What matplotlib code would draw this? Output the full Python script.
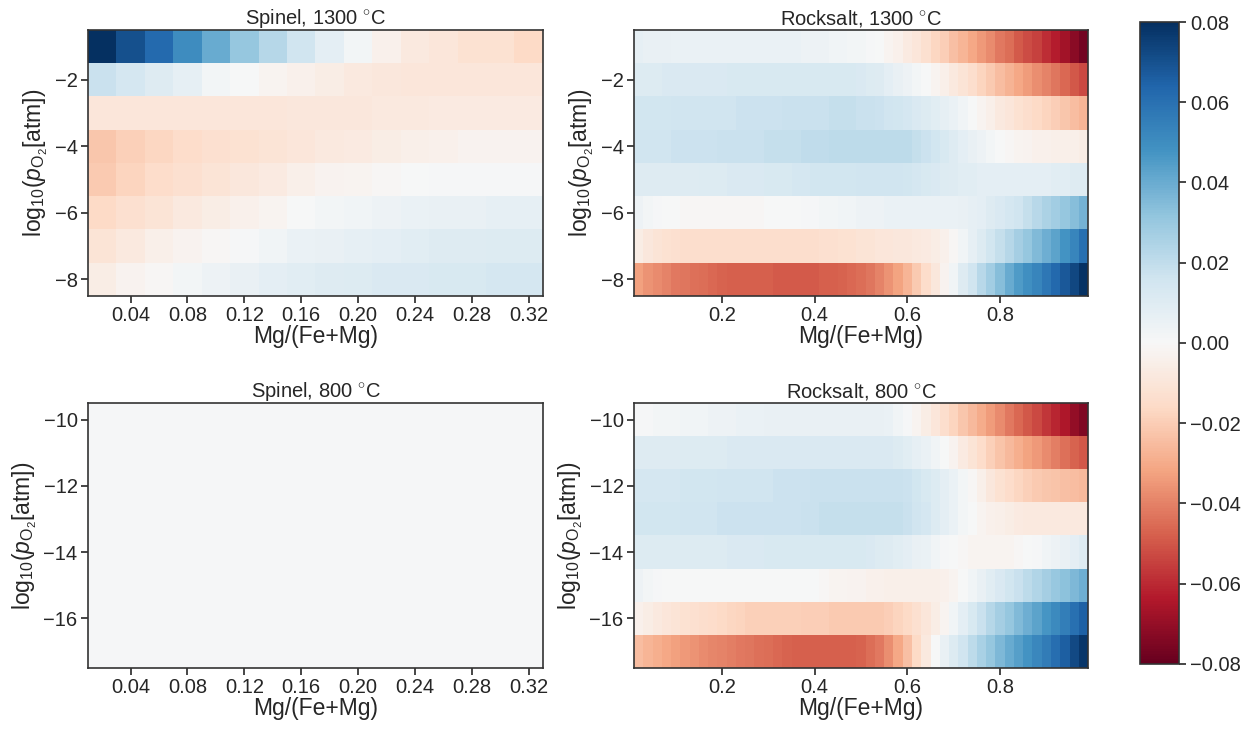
import numpy as np
import matplotlib
matplotlib.use("Agg")
import matplotlib.pyplot as plt
from matplotlib.ticker import FuncFormatter

plt.rcParams["font.family"] = ["Liberation Sans", "DejaVu Sans"]
plt.rcParams["mathtext.fontset"] = "custom"
plt.rcParams["mathtext.rm"] = "Liberation Sans"
plt.rcParams["mathtext.it"] = "Liberation Sans:italic"
plt.rcParams["mathtext.bf"] = "Liberation Sans:bold"
plt.rcParams["axes.unicode_minus"] = True

# composition grids (cell centres)
x_spinel = [0.02, 0.04, 0.06, 0.08, 0.10, 0.12, 0.14, 0.16,
            0.18, 0.20, 0.22, 0.24, 0.26, 0.28, 0.30, 0.32]
x_rocksalt = [round(0.02 * i, 2) for i in range(1, 50)]

# log10 pO2 grids (top row first)
y_1300 = [-1, -2, -3, -4, -5, -6, -7, -8]
y_800 = [-10, -11, -12, -13, -14, -15, -16, -17]

spinel_1300 = [
    [0.080, 0.070, 0.062, 0.050, 0.040, 0.031, 0.023, 0.016, 0.008, 0.002, -0.004, -0.008, -0.010, -0.012, -0.012, -0.016],
    [0.018, 0.014, 0.010, 0.007, 0.002, 0.000, -0.002, -0.004, -0.006, -0.008, -0.009, -0.010, -0.010, -0.010, -0.010, -0.010],
    [-0.010, -0.010, -0.010, -0.010, -0.010, -0.010, -0.010, -0.009, -0.009, -0.009, -0.008, -0.008, -0.007, -0.007, -0.007, -0.007],
    [-0.022, -0.019, -0.017, -0.015, -0.013, -0.012, -0.011, -0.010, -0.008, -0.007, -0.006, -0.005, -0.004, -0.003, -0.003, -0.003],
    [-0.021, -0.018, -0.015, -0.013, -0.011, -0.009, -0.007, -0.005, -0.003, -0.002, -0.001, 0.000, 0.001, 0.001, 0.001, 0.001],
    [-0.016, -0.013, -0.011, -0.008, -0.006, -0.004, -0.002, 0.000, 0.002, 0.003, 0.004, 0.005, 0.006, 0.006, 0.007, 0.007],
    [-0.011, -0.008, -0.005, -0.003, -0.001, 0.001, 0.003, 0.005, 0.006, 0.007, 0.008, 0.009, 0.010, 0.010, 0.011, 0.011],
    [-0.006, -0.003, -0.001, 0.002, 0.004, 0.006, 0.008, 0.009, 0.010, 0.011, 0.012, 0.012, 0.013, 0.013, 0.014, 0.014],
]

spinel_800 = [
    [0.001, 0.001, 0.001, 0.001, 0.001, 0.001, 0.001, 0.001, 0.001, 0.001, 0.001, 0.001, 0.001, 0.001, 0.001, 0.001],
    [0.001, 0.001, 0.001, 0.001, 0.001, 0.001, 0.001, 0.001, 0.001, 0.001, 0.001, 0.001, 0.001, 0.001, 0.001, 0.001],
    [0.001, 0.001, 0.001, 0.001, 0.001, 0.001, 0.001, 0.001, 0.001, 0.001, 0.001, 0.001, 0.001, 0.001, 0.001, 0.001],
    [0.001, 0.001, 0.001, 0.001, 0.001, 0.001, 0.001, 0.001, 0.001, 0.001, 0.001, 0.001, 0.001, 0.001, 0.001, 0.001],
    [0.001, 0.001, 0.001, 0.001, 0.001, 0.001, 0.001, 0.001, 0.001, 0.001, 0.001, 0.001, 0.001, 0.001, 0.001, 0.001],
    [0.001, 0.001, 0.001, 0.001, 0.001, 0.001, 0.001, 0.001, 0.001, 0.001, 0.001, 0.001, 0.001, 0.001, 0.001, 0.001],
    [0.001, 0.001, 0.001, 0.001, 0.001, 0.001, 0.001, 0.001, 0.001, 0.001, 0.001, 0.001, 0.001, 0.001, 0.001, 0.001],
    [0.001, 0.001, 0.001, 0.001, 0.001, 0.001, 0.001, 0.001, 0.001, 0.001, 0.001, 0.001, 0.001, 0.001, 0.001, 0.001],
]

rocksalt_1300 = [
    [0.007, 0.006, 0.006, 0.006, 0.005, 0.005, 0.005, 0.005, 0.005, 0.005,
     0.005, 0.005, 0.005, 0.005, 0.005, 0.005, 0.005, 0.005, 0.004, 0.004,
     0.004, 0.003, 0.003, 0.002, 0.002, 0.001, 0.000, -0.002, -0.004, -0.007,
     -0.010, -0.013, -0.017, -0.020, -0.024, -0.027, -0.031, -0.035, -0.038, -0.042,
     -0.045, -0.049, -0.052, -0.055, -0.059, -0.063, -0.067, -0.072, -0.077],
    [0.011, 0.011, 0.011, 0.012, 0.012, 0.012, 0.012, 0.012, 0.012, 0.012,
     0.013, 0.013, 0.013, 0.013, 0.013, 0.013, 0.013, 0.013, 0.013, 0.013,
     0.013, 0.013, 0.013, 0.013, 0.012, 0.011, 0.010, 0.008, 0.006, 0.004,
     0.002, 0.000, -0.002, -0.005, -0.008, -0.011, -0.014, -0.018, -0.021, -0.025,
     -0.028, -0.031, -0.034, -0.037, -0.040, -0.043, -0.046, -0.050, -0.053],
    [0.015, 0.015, 0.015, 0.015, 0.016, 0.016, 0.016, 0.016, 0.016, 0.016,
     0.016, 0.017, 0.017, 0.017, 0.017, 0.017, 0.018, 0.018, 0.018, 0.018,
     0.018, 0.019, 0.019, 0.019, 0.018, 0.018, 0.017, 0.016, 0.015, 0.014,
     0.012, 0.011, 0.009, 0.007, 0.005, 0.003, 0.000, -0.002, -0.005, -0.008,
     -0.010, -0.012, -0.014, -0.016, -0.018, -0.020, -0.022, -0.025, -0.027],
    [0.016, 0.016, 0.016, 0.016, 0.017, 0.017, 0.017, 0.017, 0.017, 0.018,
     0.018, 0.018, 0.018, 0.018, 0.019, 0.019, 0.019, 0.019, 0.020, 0.020,
     0.020, 0.021, 0.021, 0.021, 0.021, 0.021, 0.021, 0.021, 0.021, 0.021,
     0.019, 0.017, 0.015, 0.013, 0.010, 0.008, 0.006, 0.004, 0.002, 0.000,
     -0.001, -0.002, -0.003, -0.004, -0.004, -0.005, -0.005, -0.005, -0.006],
    [0.010, 0.010, 0.010, 0.010, 0.010, 0.010, 0.010, 0.011, 0.011, 0.011,
     0.012, 0.012, 0.012, 0.012, 0.013, 0.013, 0.013, 0.014, 0.014, 0.015,
     0.015, 0.015, 0.015, 0.015, 0.016, 0.016, 0.016, 0.016, 0.016, 0.015,
     0.014, 0.013, 0.012, 0.011, 0.010, 0.009, 0.009, 0.008, 0.008, 0.008,
     0.008, 0.008, 0.008, 0.008, 0.008, 0.009, 0.009, 0.010, 0.010],
    [0.004, 0.002, 0.001, 0.000, 0.000, -0.001, -0.001, -0.001, -0.001, -0.001,
     -0.001, -0.001, -0.001, -0.001, 0.000, 0.000, 0.000, 0.000, 0.001, 0.001,
     0.002, 0.002, 0.003, 0.003, 0.004, 0.004, 0.004, 0.005, 0.005, 0.005,
     0.005, 0.005, 0.005, 0.005, 0.005, 0.006, 0.007, 0.008, 0.010, 0.012,
     0.014, 0.016, 0.019, 0.022, 0.025, 0.028, 0.031, 0.034, 0.038],
    [-0.006, -0.009, -0.011, -0.012, -0.013, -0.014, -0.014, -0.014, -0.014, -0.014,
     -0.014, -0.014, -0.014, -0.014, -0.014, -0.014, -0.014, -0.014, -0.014, -0.014,
     -0.013, -0.013, -0.012, -0.012, -0.011, -0.011, -0.010, -0.010, -0.009, -0.009,
     -0.008, -0.007, -0.006, -0.004, -0.001, 0.003, 0.007, 0.011, 0.015, 0.019,
     0.023, 0.027, 0.031, 0.035, 0.039, 0.043, 0.048, 0.053, 0.060],
    [-0.033, -0.036, -0.038, -0.040, -0.042, -0.043, -0.044, -0.045, -0.046, -0.047,
     -0.048, -0.048, -0.048, -0.048, -0.048, -0.049, -0.049, -0.049, -0.049, -0.049,
     -0.048, -0.048, -0.047, -0.046, -0.045, -0.043, -0.040, -0.036, -0.032, -0.027,
     -0.021, -0.015, -0.009, -0.003, 0.003, 0.010, 0.016, 0.022, 0.028, 0.034,
     0.040, 0.045, 0.049, 0.053, 0.058, 0.063, 0.068, 0.073, 0.079],
]

rocksalt_800 = [
    [0.001, 0.001, 0.002, 0.002, 0.002, 0.003, 0.003, 0.003, 0.004, 0.004,
     0.004, 0.005, 0.005, 0.005, 0.006, 0.006, 0.006, 0.006, 0.006, 0.006,
     0.006, 0.006, 0.006, 0.006, 0.006, 0.006, 0.006, 0.005, 0.003, 0.001,
     -0.002, -0.006, -0.010, -0.014, -0.018, -0.022, -0.026, -0.030, -0.034, -0.038,
     -0.042, -0.046, -0.050, -0.053, -0.057, -0.061, -0.065, -0.070, -0.075],
    [0.010, 0.010, 0.010, 0.010, 0.010, 0.011, 0.011, 0.011, 0.011, 0.011,
     0.012, 0.012, 0.012, 0.012, 0.012, 0.012, 0.012, 0.012, 0.012, 0.012,
     0.012, 0.012, 0.012, 0.012, 0.012, 0.012, 0.012, 0.012, 0.011, 0.009,
     0.007, 0.005, 0.003, 0.000, -0.003, -0.007, -0.011, -0.015, -0.019, -0.023,
     -0.026, -0.029, -0.032, -0.035, -0.038, -0.041, -0.044, -0.047, -0.050],
    [0.014, 0.014, 0.014, 0.014, 0.014, 0.015, 0.015, 0.015, 0.015, 0.016,
     0.016, 0.016, 0.016, 0.016, 0.016, 0.017, 0.017, 0.017, 0.017, 0.018,
     0.018, 0.018, 0.018, 0.018, 0.018, 0.018, 0.018, 0.018, 0.018, 0.017,
     0.015, 0.013, 0.011, 0.008, 0.005, 0.002, -0.001, -0.005, -0.009, -0.012,
     -0.015, -0.017, -0.019, -0.021, -0.022, -0.023, -0.024, -0.025, -0.026],
    [0.015, 0.015, 0.015, 0.015, 0.015, 0.016, 0.016, 0.016, 0.016, 0.017,
     0.017, 0.017, 0.017, 0.017, 0.017, 0.017, 0.017, 0.017, 0.018, 0.018,
     0.019, 0.019, 0.019, 0.019, 0.019, 0.019, 0.019, 0.019, 0.019, 0.018,
     0.016, 0.014, 0.011, 0.008, 0.005, 0.002, 0.000, -0.002, -0.004, -0.005,
     -0.006, -0.007, -0.008, -0.008, -0.008, -0.008, -0.008, -0.008, -0.008],
    [0.011, 0.011, 0.011, 0.011, 0.011, 0.011, 0.011, 0.011, 0.011, 0.011,
     0.012, 0.012, 0.012, 0.012, 0.013, 0.013, 0.013, 0.013, 0.013, 0.013,
     0.013, 0.013, 0.013, 0.013, 0.013, 0.012, 0.011, 0.010, 0.009, 0.008,
     0.006, 0.005, 0.003, 0.001, 0.000, -0.001, -0.002, -0.002, -0.002, -0.002,
     -0.002, -0.001, 0.000, 0.001, 0.003, 0.004, 0.006, 0.008, 0.010],
    [0.004, 0.002, 0.001, 0.000, 0.000, 0.000, 0.000, 0.000, 0.000, 0.000,
     0.000, 0.000, 0.000, 0.000, 0.000, 0.000, 0.000, 0.000, 0.000, 0.000,
     -0.001, -0.002, -0.002, -0.003, -0.003, -0.004, -0.004, -0.005, -0.005, -0.005,
     -0.005, -0.005, -0.005, -0.004, -0.002, 0.000, 0.003, 0.006, 0.009, 0.012,
     0.015, 0.018, 0.021, 0.024, 0.027, 0.030, 0.033, 0.036, 0.039],
    [-0.004, -0.006, -0.008, -0.010, -0.011, -0.012, -0.013, -0.014, -0.015, -0.016,
     -0.017, -0.018, -0.019, -0.019, -0.019, -0.019, -0.019, -0.019, -0.020, -0.020,
     -0.020, -0.021, -0.021, -0.021, -0.021, -0.021, -0.021, -0.020, -0.018, -0.016,
     -0.013, -0.010, -0.006, -0.002, 0.003, 0.008, 0.013, 0.018, 0.023, 0.027,
     0.031, 0.035, 0.039, 0.043, 0.047, 0.051, 0.055, 0.060, 0.065],
    [-0.025, -0.027, -0.029, -0.031, -0.033, -0.035, -0.036, -0.038, -0.039, -0.040,
     -0.041, -0.042, -0.043, -0.044, -0.045, -0.046, -0.047, -0.048, -0.048, -0.048,
     -0.048, -0.048, -0.048, -0.048, -0.047, -0.045, -0.042, -0.037, -0.031, -0.024,
     -0.016, -0.008, 0.000, 0.006, 0.011, 0.016, 0.021, 0.026, 0.031, 0.036,
     0.040, 0.044, 0.048, 0.052, 0.056, 0.061, 0.066, 0.072, 0.078],
]

spinel_ticks = [0.04, 0.08, 0.12, 0.16, 0.20, 0.24, 0.28, 0.32]
rocksalt_ticks = [0.2, 0.4, 0.6, 0.8]
cbar_ticks = [-0.08, -0.06, -0.04, -0.02, 0.0, 0.02, 0.04, 0.06, 0.08]

vmin, vmax = -0.08, 0.08
fs = 14.5
lfs = 16.5
edge = "#333333"
txt = "#262626"
ylab = r"log$_{10}$($p_{\mathrm{O_2}}$[atm])"

fig = plt.figure(figsize=(12.55, 7.31), dpi=100)

panels = [
    ("Spinel, 1300 $^{\\circ}$C", x_spinel, y_1300, spinel_1300, spinel_ticks, "%.2f",
     [0.0701, 0.5951, 0.3625, 0.3639], [-2, -4, -6, -8]),
    ("Rocksalt, 1300 $^{\\circ}$C", x_rocksalt, y_1300, rocksalt_1300, rocksalt_ticks, "%.1f",
     [0.5052, 0.5951, 0.3618, 0.3639], [-2, -4, -6, -8]),
    ("Spinel, 800 $^{\\circ}$C", x_spinel, y_800, spinel_800, spinel_ticks, "%.2f",
     [0.0701, 0.0862, 0.3625, 0.3625], [-10, -12, -14, -16]),
    ("Rocksalt, 800 $^{\\circ}$C", x_rocksalt, y_800, rocksalt_800, rocksalt_ticks, "%.1f",
     [0.5052, 0.0862, 0.3618, 0.3625], [-10, -12, -14, -16]),
]

mesh = None
for title, xs, ys, z, xt, fmt, rect, yt in panels:
    ax = fig.add_axes(rect)
    mesh = ax.pcolormesh(xs, ys, np.array(z), cmap="RdBu", vmin=vmin, vmax=vmax,
                         shading="nearest")
    ax.set_xticks(xt)
    ax.set_xticklabels([fmt % t for t in xt])
    ax.set_yticks(yt)
    ax.set_title(title, fontsize=fs, color=txt, pad=4)
    ax.set_xlabel("Mg/(Fe+Mg)", fontsize=lfs, color=txt, labelpad=0)
    ax.set_ylabel(ylab, fontsize=lfs, color=txt, labelpad=3)
    ax.tick_params(labelsize=fs, colors=txt, length=5, width=1.2, direction="out", pad=2.5)
    for s in ax.spines.values():
        s.set_color(edge)
        s.set_linewidth(1.2)

cax = fig.add_axes([0.9084, 0.0917, 0.0311, 0.8782])
cb = fig.colorbar(mesh, cax=cax, ticks=cbar_ticks,
                  format=FuncFormatter(lambda v, p: ("%.2f" % v).replace("-", "\u2212")))
cb.ax.tick_params(labelsize=fs, colors=txt, length=5, width=1.2, pad=3)
cb.outline.set_edgecolor(edge)
cb.outline.set_linewidth(1.2)

fig.savefig("out.png", dpi=100)
